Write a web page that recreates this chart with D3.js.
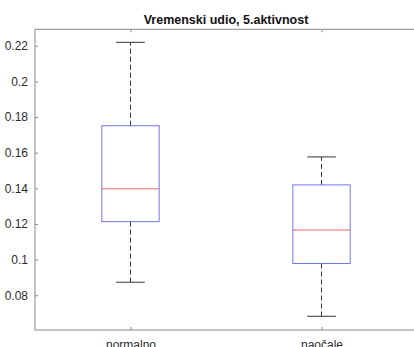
<!doctype html>
<html>
<head>
<meta charset="utf-8">
<script src="https://d3js.org/d3.v7.min.js"></script>
<style>
body { margin: 0; background: #fff; }
svg { display: block; font-family: "Liberation Sans", Arial, sans-serif; }
</style>
</head>
<body>
<svg width="414" height="347"></svg>
<script>
// data
var groups = ["normalno", "naočale"];
var whiskerLow  = [0.0873, 0.0682];
var q1          = [0.1213, 0.0978];
var median      = [0.1397, 0.1166];
var q3          = [0.1751, 0.1419];
var whiskerHigh = [0.2219, 0.1576];
var yTicks = [0.08, 0.1, 0.12, 0.14, 0.16, 0.18, 0.2, 0.22];

var svg = d3.select("svg");
// plot area (window.top is reserved, so use other names)
var plotL = 35, plotR = 417, plotT = 29.3, plotB = 330;

var x = d3.scaleLinear().domain([0.5, 2.5]).range([plotL, plotR]);
var y = d3.scaleLinear().domain([0.0605, 0.2292]).range([plotB, plotT]);

var axisColor = "#8a8a8a";
var textColor = "#2b2b2b";

// title
svg.append("text")
    .attr("x", (plotL + plotR) / 2)
    .attr("y", 23.5)
    .attr("text-anchor", "middle")
    .style("font-weight", "bold")
    .style("font-size", "12.5px")
    .attr("fill", "#111")
    .text("Vremenski udio, 5.aktivnost");

// box outline of axes
svg.append("rect")
    .attr("x", plotL).attr("y", plotT)
    .attr("width", plotR - plotL).attr("height", plotB - plotT)
    .attr("fill", "none").attr("stroke", axisColor).attr("stroke-width", 1);

// left axis
var yAxis = svg.append("g")
    .attr("transform", "translate(" + plotL + ",0)")
    .call(d3.axisLeft(y).tickValues(yTicks).tickSizeInner(-3).tickSizeOuter(0).tickPadding(7)
        .tickFormat(function(d) { return String(+d.toFixed(2)); }));
yAxis.select(".domain").remove();
yAxis.selectAll("line").attr("stroke", axisColor);
yAxis.selectAll("text").attr("fill", textColor).style("font-size", "12px")
    .style("font-family", "Liberation Sans, Arial, sans-serif");

// right axis ticks
var yAxisR = svg.append("g")
    .attr("transform", "translate(" + plotR + ",0)")
    .call(d3.axisRight(y).tickValues(yTicks).tickSizeInner(-3).tickSizeOuter(0).tickFormat(""));
yAxisR.select(".domain").remove();
yAxisR.selectAll("line").attr("stroke", axisColor);

// bottom axis
var xAxis = svg.append("g")
    .attr("transform", "translate(0," + plotB + ")")
    .call(d3.axisBottom(x).tickValues([1, 2]).tickSizeInner(-3).tickSizeOuter(0).tickPadding(10)
        .tickFormat(function(d) { return groups[d - 1]; }));
xAxis.select(".domain").remove();
xAxis.selectAll("line").attr("stroke", axisColor);
xAxis.selectAll("text").attr("fill", textColor).style("font-size", "12px")
    .style("font-family", "Liberation Sans, Arial, sans-serif");

// top axis ticks
var xAxisT = svg.append("g")
    .attr("transform", "translate(0," + plotT + ")")
    .call(d3.axisTop(x).tickValues([1, 2]).tickSizeInner(-3).tickSizeOuter(0).tickFormat(""));
xAxisT.select(".domain").remove();
xAxisT.selectAll("line").attr("stroke", axisColor);

// boxplots
var boxW = 0.3, capW = 0.15;
var g = svg.append("g");
groups.forEach(function(name, i) {
    var c = i + 1;
    // whiskers
    g.append("line")
        .attr("x1", x(c)).attr("x2", x(c))
        .attr("y1", y(q3[i])).attr("y2", y(whiskerHigh[i]))
        .attr("stroke", "#333").attr("stroke-dasharray", "5,3");
    g.append("line")
        .attr("x1", x(c)).attr("x2", x(c))
        .attr("y1", y(q1[i])).attr("y2", y(whiskerLow[i]))
        .attr("stroke", "#333").attr("stroke-dasharray", "5,3");
    // caps
    [whiskerHigh[i], whiskerLow[i]].forEach(function(v) {
        g.append("line")
            .attr("x1", x(c - capW / 2)).attr("x2", x(c + capW / 2))
            .attr("y1", y(v)).attr("y2", y(v))
            .attr("stroke", "#333");
    });
    // box
    g.append("rect")
        .attr("x", x(c - boxW / 2)).attr("y", y(q3[i]))
        .attr("width", x(c + boxW / 2) - x(c - boxW / 2))
        .attr("height", y(q1[i]) - y(q3[i]))
        .attr("fill", "none").attr("stroke", "#7373ee");
    // median
    g.append("line")
        .attr("x1", x(c - boxW / 2)).attr("x2", x(c + boxW / 2))
        .attr("y1", y(median[i])).attr("y2", y(median[i]))
        .attr("stroke", "#e26a6a");
});
</script>
</body>
</html>
